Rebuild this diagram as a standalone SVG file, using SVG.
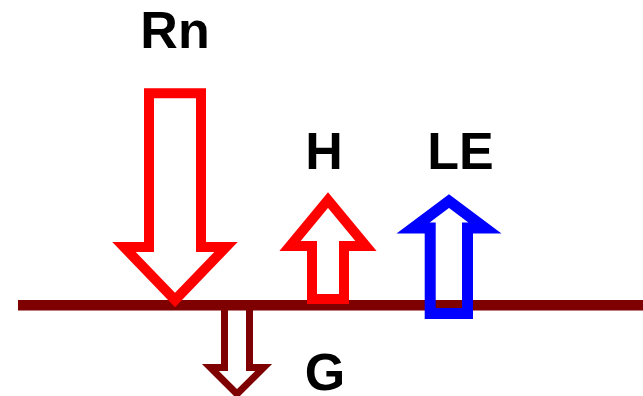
<svg xmlns="http://www.w3.org/2000/svg" width="643" height="396" viewBox="0 0 643 396">
<style>
.lbl{font-family:"Liberation Sans",Arial,sans-serif;font-weight:bold;font-size:52px;fill:#000;text-anchor:middle}
.arr{stroke-linejoin:miter;stroke-miterlimit:10;fill:none}
</style>
<rect width="643" height="396" fill="#fff"/>
<g id="connectors">
<polygon id="g-arrow" class="arr" points="224.5,306.5 249.5,306.5 249.5,367.5 263.6,367.5 237,394 210.4,367.5 224.5,367.5" stroke="#7F0000" stroke-width="7"/>
<line id="surface" x1="18" y1="305.3" x2="643" y2="305.3" stroke="#7F0000" stroke-width="10.5"/>
<polygon id="rn-arrow" class="arr" points="149,93.3 201,93.3 201,247 226,247 175,300 124,247 149,247" stroke="#FF0000" stroke-width="10"/>
<polygon id="h-arrow" class="arr" points="312,299 344,299 344,246 366,246 328,200 290,246 312,246" stroke="#FF0000" stroke-width="10"/>
<polygon id="le-arrow" class="arr" points="430.2,313.5 467.5,313.5 467.5,228 485,228 449,201 413,228 430.2,228" stroke="#0000FF" stroke-width="11"/>
</g>
<g id="Rn"><text class="lbl" x="175" y="48">Rn</text></g>
<g id="H"><text class="lbl" x="324" y="169">H</text></g>
<g id="LE"><text class="lbl" x="460.5" y="169">LE</text></g>
<g id="G"><text class="lbl" x="325" y="390">G</text></g>
</svg>
